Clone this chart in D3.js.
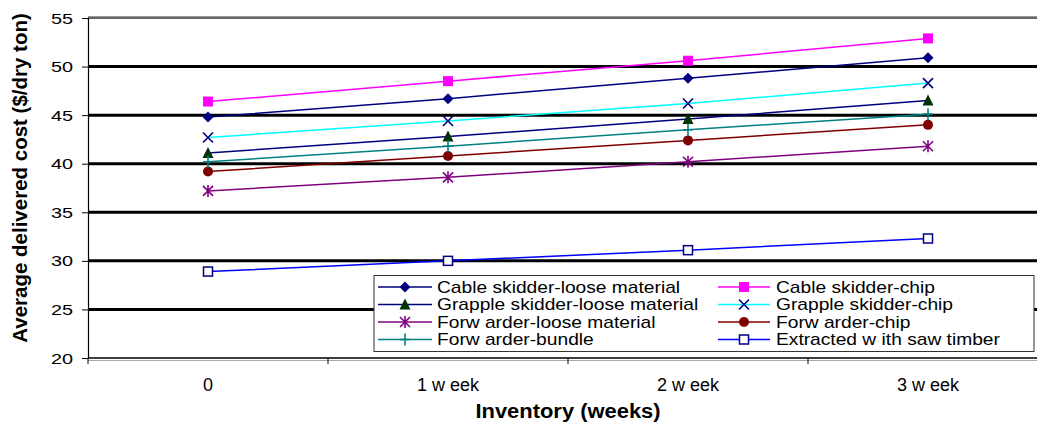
<!DOCTYPE html>
<html><head><meta charset="utf-8">
<script src="https://cdn.jsdelivr.net/npm/d3@7"></script>
<style>body{margin:0;background:#fff}svg{display:block;font-family:"Liberation Sans",Arial,sans-serif}</style>
</head><body><svg id="c" width="1037" height="424"></svg>
<script>
// ---- data ----
const categories = ["0", "1 w eek", "2 w eek", "3 w eek"];
const seriesNames = [
  "Cable skidder-loose material", "Cable skidder-chip",
  "Grapple skidder-loose material", "Grapple skidder-chip",
  "Forw arder-loose material", "Forw arder-chip",
  "Forw arder-bundle", "Extracted w ith saw timber"
];
const cableLoose      = [44.8, 46.7, 48.8, 50.9];
const cableChip       = [46.4, 48.5, 50.6, 52.9];
const grappleLoose    = [41.1, 42.8, 44.6, 46.5];
const grappleChip     = [42.7, 44.4, 46.2, 48.3];
const forwarderLoose  = [37.2, 38.6, 40.2, 41.8];
const forwarderChip   = [39.2, 40.8, 42.4, 44.0];
const forwarderBundle = [40.2, 41.8, 43.5, 45.1];
const sawTimber       = [28.9, 30.0, 31.1, 32.3];
const yTicks = [20, 25, 30, 35, 40, 45, 50, 55];
const gridValues = [25, 30, 35, 40, 45, 50];
const yTitle = "Average delivered cost ($/dry ton)";
const xTitle = "Inventory (weeks)";

const seriesValues = [cableLoose, cableChip, grappleLoose, grappleChip,
  forwarderLoose, forwarderChip, forwarderBundle, sawTimber];
const lineColors = ["#000080", "#FF00FF", "#000080", "#00FFFF", "#800080", "#800000", "#008080", "#0000FF"];
const markerColors = ["#000080", "#FF00FF", "#003300", "#000080", "#800080", "#800000", "#008080", "#000080"];
const markerTypes = ["diamond", "square", "triangle", "x", "star", "circle", "plus", "opensquare"];

const series = seriesNames.map((n, i) => ({name: n, values: seriesValues[i], line: lineColors[i], mc: markerColors[i], mt: markerTypes[i]}));

// ---- layout ----
const svg = d3.select("#c");
const L = 88, R = 1048, T = 18, B = 358;
const x = d3.scaleBand().domain(categories).range([L, R]).padding(0);
const y = d3.scaleLinear().domain([20, 55]).range([B, T]);
const cx = c => x(c) + x.bandwidth() / 2;

function stext(g, str, px, py, size, sx, anchor, weight) {
  const t = g.append("g").attr("transform", `translate(${px},${py}) scale(${sx},1)`)
    .append("text").attr("text-anchor", anchor || "start").attr("font-size", size)
    .attr("font-weight", weight || "normal").attr("fill", "#000").text(str);
  return t;
}

// gridlines
svg.append("g").selectAll("line").data(gridValues).join("line")
  .attr("x1", L).attr("x2", R).attr("y1", d => y(d)).attr("y2", d => y(d))
  .attr("stroke", "#000").attr("stroke-width", 3);

// top border
svg.append("line").attr("x1", L).attr("x2", R).attr("y1", y(55) - 1.5).attr("y2", y(55) - 1.5).attr("stroke", "#999").attr("stroke-width", 1);
svg.append("line").attr("x1", L).attr("x2", R).attr("y1", y(55)).attr("y2", y(55)).attr("stroke", "#333").attr("stroke-width", 1.5);

// y axis
const yAxis = svg.append("g").attr("transform", `translate(${L},0)`)
  .call(d3.axisLeft(y).tickValues(yTicks).tickSize(6).tickFormat(""));
yAxis.select(".domain").attr("stroke", "#000").attr("stroke-width", 1.2);
yAxis.selectAll(".tick line").attr("stroke", "#000");
yTicks.forEach(v => stext(svg, String(v), 73, y(v) + 5.5, 15.5, 1.28, "end"));

// x axis
const xAxis = svg.append("g").attr("transform", `translate(0,${B})`)
  .call(d3.axisBottom(x).tickSize(0).tickFormat(""));
xAxis.select(".domain").remove();
svg.append("line").attr("x1", L).attr("x2", R).attr("y1", B).attr("y2", B).attr("stroke", "#000").attr("stroke-width", 1.5);
svg.append("line").attr("x1", L).attr("x2", R).attr("y1", B + 2.5).attr("y2", B + 2.5).attr("stroke", "#aaa").attr("stroke-width", 1);
const bounds = categories.map(c => x(c)).concat([R]);
svg.append("g").selectAll("line").data(bounds).join("line")
  .attr("x1", d => d).attr("x2", d => d).attr("y1", B).attr("y2", B + 6)
  .attr("stroke", "#000").attr("stroke-width", 1);
categories.forEach(c => stext(svg, c, cx(c), 391, 18, 1.0, "middle"));

// axis titles
stext(svg, xTitle, (L + R) / 2, 418, 20.5, 1.07, "middle", "bold");
svg.append("text").attr("transform", `translate(27,${(T + B) / 2 - 10}) rotate(-90)`)
  .attr("text-anchor", "middle").attr("font-size", 20.5).attr("font-weight", "bold").text(yTitle);

// markers
function marker(g, type, color, px, py) {
  const s = 5.5;
  if (type === "diamond") g.append("path").attr("d", `M${px},${py - s}L${px + s},${py}L${px},${py + s}L${px - s},${py}Z`).attr("fill", color);
  else if (type === "square") g.append("rect").attr("x", px - 5).attr("y", py - 5).attr("width", 10).attr("height", 10).attr("fill", color);
  else if (type === "triangle") g.append("path").attr("d", `M${px},${py - 6}L${px + 5.5},${py + 5}L${px - 5.5},${py + 5}Z`).attr("fill", color);
  else if (type === "x") g.append("path").attr("d", `M${px - 5},${py - 5}L${px + 5},${py + 5}M${px + 5},${py - 5}L${px - 5},${py + 5}`).attr("stroke", color).attr("stroke-width", 1.6).attr("fill", "none");
  else if (type === "star") g.append("path").attr("d", `M${px - 5},${py - 5}L${px + 5},${py + 5}M${px + 5},${py - 5}L${px - 5},${py + 5}M${px},${py - 6}L${px},${py + 6}`).attr("stroke", color).attr("stroke-width", 1.6).attr("fill", "none");
  else if (type === "circle") g.append("circle").attr("cx", px).attr("cy", py).attr("r", 5).attr("fill", color);
  else if (type === "plus") g.append("path").attr("d", `M${px - 5},${py}L${px + 5},${py}M${px},${py - 6}L${px},${py + 6}`).attr("stroke", color).attr("stroke-width", 1.6).attr("fill", "none");
  else if (type === "opensquare") g.append("rect").attr("x", px - 4.5).attr("y", py - 4.5).attr("width", 9).attr("height", 9).attr("fill", "#fff").attr("stroke", color).attr("stroke-width", 1.5);
}

const lineGen = d3.line().x((d, i) => cx(categories[i])).y(d => y(d));
series.forEach(s => {
  const g = svg.append("g");
  g.append("path").attr("d", lineGen(s.values)).attr("fill", "none").attr("stroke", s.line).attr("stroke-width", 1.5);
  s.values.forEach((v, i) => marker(g, s.mt, s.mc, cx(categories[i]), y(v)));
});

// legend
const lg = svg.append("g");
lg.append("rect").attr("x", 374).attr("y", 275.5).attr("width", 660).attr("height", 76)
  .attr("fill", "#fff").attr("stroke", "#333").attr("stroke-width", 1);
const rowY = [287, 304.5, 322, 339.5];
const colX = [[378, 432, 437], [718, 770, 776]];
series.forEach((s, i) => {
  const col = i % 2, row = Math.floor(i / 2);
  const yy = rowY[row], c = colX[col];
  lg.append("line").attr("x1", c[0]).attr("x2", c[1]).attr("y1", yy).attr("y2", yy).attr("stroke", s.line).attr("stroke-width", 1.5);
  marker(lg, s.mt, s.mc, (c[0] + c[1]) / 2, yy);
  stext(lg, s.name, c[2], yy + 5.8, 16, 1.2, "start");
});
</script></body></html>
